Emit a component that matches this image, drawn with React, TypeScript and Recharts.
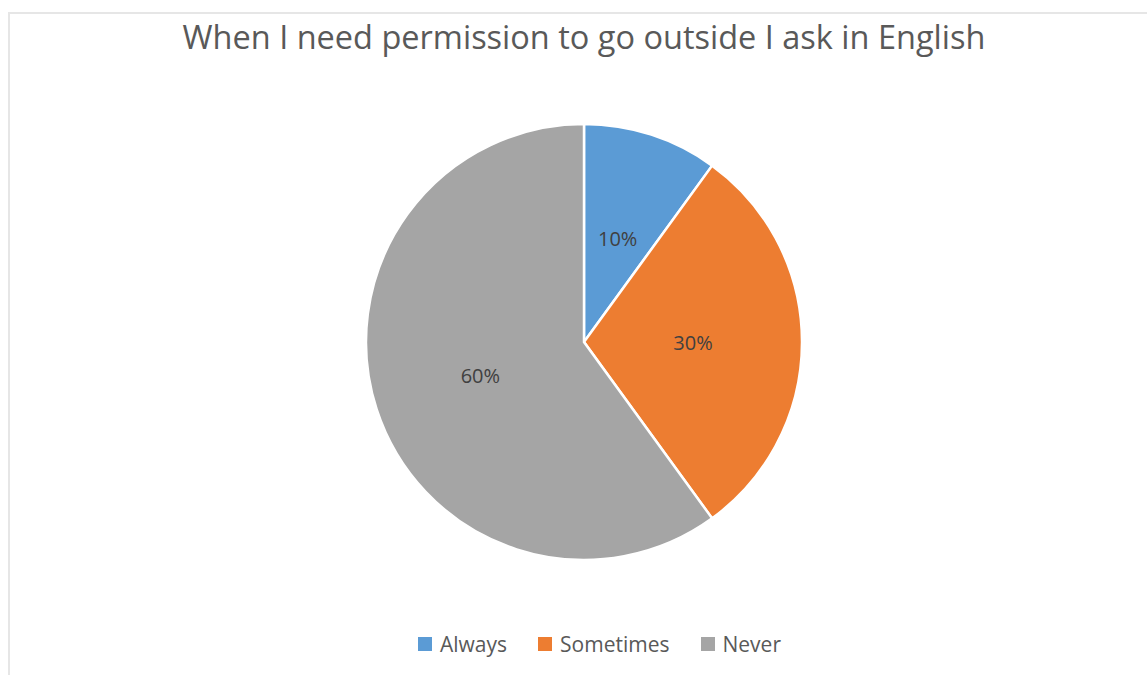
import { PieChart, Pie, Cell, Legend } from 'recharts'

const TITLE = 'When I need permission to go outside I ask in English'
const categories = ['Always', 'Sometimes', 'Never']
const shares = [10, 30, 60]
const colors = ['#5B9BD5', '#ED7D31', '#A5A5A5']

const data = categories.map((name, i) => ({ name, value: shares[i] }))

const RAD = Math.PI / 180
const FONT = '"Open Sans", "Noto Sans", sans-serif'

const renderLabel = (props: any) => {
  const { cx, cy, midAngle, outerRadius, value } = props
  const r = outerRadius * 0.5
  const x = cx + r * Math.cos(-midAngle * RAD)
  const y = cy + r * Math.sin(-midAngle * RAD)
  return (
    <text x={x} y={y} fill="#404040" fontSize={20} fontFamily={FONT}
      textAnchor="middle" dominantBaseline="central">
      {`${value}%`}
    </text>
  )
}

const renderLegend = () => (
  <div style={{ display: 'flex', justifyContent: 'center', fontFamily: FONT, fontSize: 21, color: '#595959' }}>
    {categories.map((c, i) => (
      <div key={c} style={{ display: 'flex', alignItems: 'center', marginRight: i < categories.length - 1 ? 31 : 0 }}>
        <span style={{ width: 14, height: 14, background: colors[i], display: 'inline-block', marginRight: 8 }} />
        <span>{c}</span>
      </div>
    ))}
  </div>
)

export default function App() {
  return (
    <div style={{
      position: 'absolute', left: 8, top: 12, width: 1139, height: 663,
      boxSizing: 'border-box', borderTop: '2px solid #e6e6e6', borderLeft: '2px solid #e6e6e6',
      background: '#fff', overflow: 'hidden',
    }}>
      <div style={{
        position: 'absolute', left: 0, width: 1148, top: 3, textAlign: 'center',
        fontFamily: FONT, fontSize: 32.5, color: '#595959', lineHeight: '40px', whiteSpace: 'nowrap',
      }}>
        {TITLE}
      </div>
      <PieChart width={1137} height={661}>
        <Pie
          data={data}
          dataKey="value"
          nameKey="name"
          cx={569}
          cy={323}
          outerRadius={218}
          startAngle={90}
          endAngle={-270}
          stroke="#ffffff"
          strokeWidth={2.5}
          label={renderLabel}
          labelLine={false}
          isAnimationActive={false}
        >
          {data.map((d, i) => <Cell key={d.name} fill={colors[i]} />)}
        </Pie>
        <Legend content={renderLegend} wrapperStyle={{ top: 616, left: 0, width: 1179 }} />
      </PieChart>
    </div>
  )
}
